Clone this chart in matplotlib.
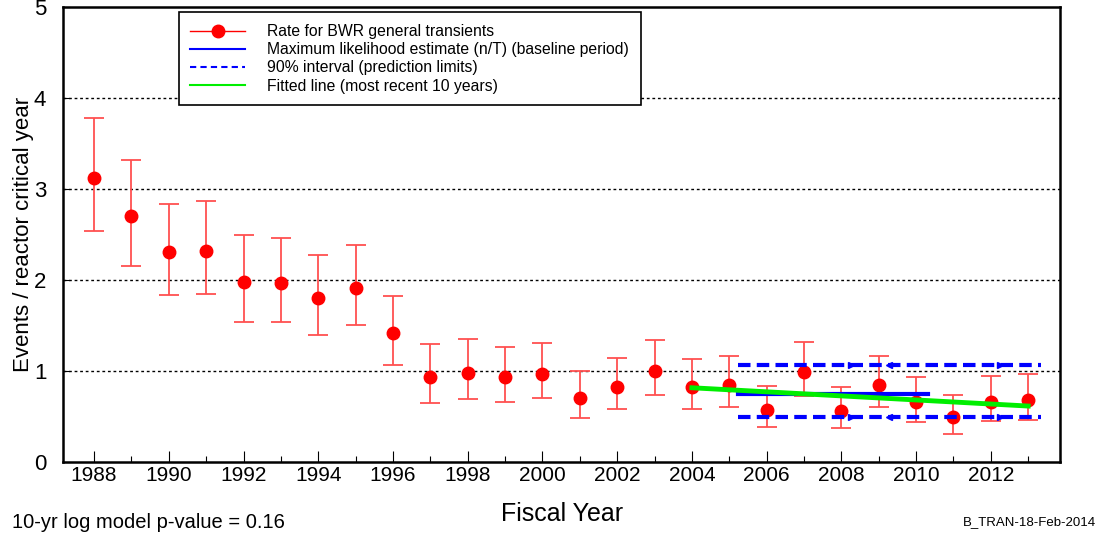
"""
Trend plot of BWR general transient rates per reactor critical year.
"""

import numpy as np
import matplotlib
matplotlib.use('Agg')
import matplotlib.pyplot as plt

plt.rcParams['font.family'] = ['Liberation Sans', 'DejaVu Sans']

years = np.arange(1988, 2014)
rate = [3.12, 2.70, 2.31, 2.32, 1.98, 1.97, 1.80, 1.91, 1.42, 0.93,
        0.98, 0.93, 0.97, 0.70, 0.82, 1.00, 0.82, 0.85, 0.575, 0.985,
        0.56, 0.85, 0.66, 0.49, 0.66, 0.68]
upper = [3.78, 3.32, 2.84, 2.87, 2.49, 2.46, 2.27, 2.38, 1.82, 1.30,
         1.35, 1.26, 1.31, 1.00, 1.14, 1.34, 1.13, 1.17, 0.84, 1.32,
         0.82, 1.17, 0.93, 0.74, 0.95, 0.97]
lower = [2.54, 2.15, 1.84, 1.85, 1.54, 1.54, 1.40, 1.51, 1.07, 0.65,
         0.69, 0.66, 0.70, 0.48, 0.58, 0.74, 0.58, 0.60, 0.38, 0.72,
         0.37, 0.61, 0.44, 0.31, 0.45, 0.46]

# baseline period estimate and prediction limits
mle_x = [2005.23, 2010.31]
mle_y = [0.745, 0.745]
pred_x = [2005.23, 2013.33]
pred_hi = [1.066, 1.066]
pred_lo = [0.49, 0.49]
arrow_x = [2008.27, 2009.27, 2012.24]
arrow_marks = ['>', '<', '>']

# fitted line over the most recent 10 years
fit_x = [2004, 2013]
fit_y = [0.816, 0.615]

xtick_labels = list(range(1988, 2014, 2))

fig = plt.figure(figsize=(11, 5.35), dpi=100)
ax = fig.add_axes([0.0573, 0.1364, 0.9063, 0.8506])

rate = np.array(rate)
yerr = [rate - np.array(lower), np.array(upper) - rate]
ax.errorbar(years, rate, yerr=yerr, fmt='none', ecolor='#ff5050',
            elinewidth=1.3, capsize=7, capthick=1.3, zorder=3)
ax.plot(years, rate, 'o', color='red', markersize=9, zorder=4)

ax.plot(mle_x, mle_y, color='#0000ff', linewidth=3, zorder=5)
ax.plot(pred_x, pred_hi, color='#0000ff', linewidth=3, linestyle=(0, (3, 1.5)), zorder=5)
ax.plot(pred_x, pred_lo, color='#0000ff', linewidth=3, linestyle=(0, (3, 1.5)), zorder=5)
for xa, m in zip(arrow_x, arrow_marks):
    ax.plot([xa, xa], [pred_hi[0], pred_lo[0]], linestyle='none', marker=m,
            color='#0000ff', markersize=5, zorder=5)
ax.plot(fit_x, fit_y, color='#00ee00', linewidth=3.5, zorder=6)

# legend proxies
h_rate, = ax.plot([], [], '-o', color='red', markersize=9, linewidth=1)
h_mle, = ax.plot([], [], color='#0000ff', linewidth=1.5)
h_pred, = ax.plot([], [], color='#0000ff', linewidth=1.5, linestyle=(0, (3, 2)))
h_fit, = ax.plot([], [], color='#00ee00', linewidth=1.5)
leg = ax.legend([h_rate, h_mle, h_pred, h_fit],
                ['Rate for BWR general transients',
                 'Maximum likelihood estimate (n/T) (baseline period)',
                 '90% interval (prediction limits)',
                 'Fitted line (most recent 10 years)'],
                loc='upper left', bbox_to_anchor=(0.116, 0.988), fontsize=11.3,
                frameon=True, fancybox=False, framealpha=1, edgecolor='black',
                handlelength=3.5, handletextpad=1.4, borderpad=0.75,
                labelspacing=0.2, borderaxespad=0)
leg.get_frame().set_linewidth(1.2)
leg.set_zorder(10)

ax.set_xlim(1987.17, 2013.85)
ax.set_ylim(0, 5)
ax.set_xticks(years, minor=True)
ax.set_xticks(xtick_labels)
ax.set_xticklabels([str(y) for y in xtick_labels], fontsize=15)
ax.set_yticks(range(0, 6))
ax.set_yticklabels([str(v) for v in range(0, 6)], fontsize=16)
ax.tick_params(axis='x', which='major', direction='in', length=8, width=0.8, pad=3)
ax.tick_params(axis='x', which='minor', direction='in', length=4, width=0.8)
ax.tick_params(axis='y', direction='in', length=5, width=0.8, pad=12)

for yv in [1, 2, 3, 4]:
    ax.axhline(yv, color='black', linestyle=(0, (2, 2)), linewidth=1, zorder=1)

for side in ['left', 'bottom', 'right', 'top']:
    ax.spines[side].set_linewidth(1.8)

ax.set_ylabel('Events / reactor critical year', fontsize=16, labelpad=0)
fig.text(0.511, 0.04, 'Fiscal Year', fontsize=18, ha='center', va='center')
fig.text(0.011, 0.024, '10-yr log model p-value = 0.16', fontsize=14.5, ha='left', va='center')
fig.text(0.996, 0.024, 'B_TRAN-18-Feb-2014', fontsize=9.5, ha='right', va='center')

fig.savefig('out.png', dpi=100)
